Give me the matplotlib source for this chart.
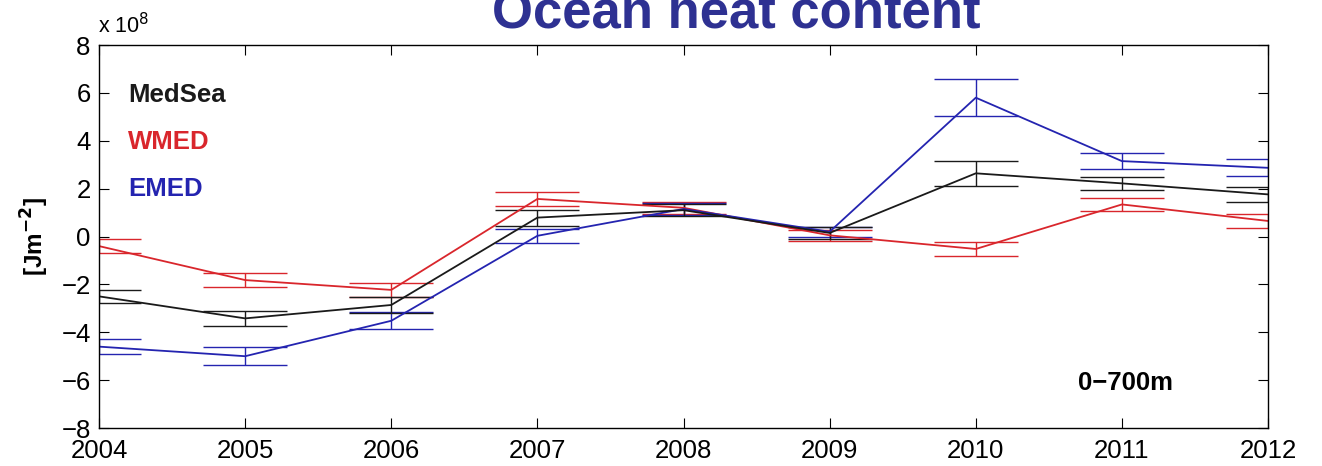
import matplotlib
matplotlib.use("Agg")
import matplotlib.pyplot as plt
import numpy as np

plt.rcParams['font.family'] = ['Liberation Sans', 'DejaVu Sans']

years = [2004, 2005, 2006, 2007, 2008, 2009, 2010, 2011, 2012]
medsea = [-2.5, -3.42, -2.86, 0.79, 1.1, 0.15, 2.64, 2.22, 1.76]
medsea_err = [0.28, 0.32, 0.32, 0.33, 0.26, 0.25, 0.52, 0.28, 0.31]
wmed = [-0.4, -1.82, -2.23, 1.57, 1.2, 0.05, -0.52, 1.34, 0.65]
wmed_err = [0.3, 0.28, 0.3, 0.3, 0.26, 0.22, 0.31, 0.28, 0.31]
emed = [-4.6, -5.0, -3.52, 0.03, 1.15, 0.2, 5.8, 3.15, 2.87]
emed_err = [0.32, 0.38, 0.35, 0.3, 0.26, 0.2, 0.78, 0.32, 0.35]
yticks = [-8, -6, -4, -2, 0, 2, 4, 6, 8]

c_black = '#1a1a1a'
c_red = '#d9262c'
c_blue = '#2424b0'

fig = plt.figure(figsize=(13.22, 4.66), dpi=100)
ax = fig.add_axes([0.0749, 0.0815, 0.8843, 0.8219])

for vals, errs, col in [(wmed, wmed_err, c_red), (emed, emed_err, c_blue), (medsea, medsea_err, c_black)]:
    ax.errorbar(years, vals, yerr=errs, color=col, lw=1.3, elinewidth=1.0,
                capsize=30.5, capthick=1.0)

ax.set_xlim(2004, 2012)
ax.set_ylim(-8, 8)
ax.set_xticks(years)
ax.set_xticklabels([str(y) for y in years])
ax.set_yticks(yticks)
ax.tick_params(direction='in', length=7, width=0.8, top=True, right=True,
               labelsize=18.5)
ax.tick_params(axis='x', pad=8)
ax.tick_params(axis='y', pad=6)
for s in ax.spines.values():
    s.set_linewidth(1.0)

ax.text(0.0248, 0.869, 'MedSea', transform=ax.transAxes, color=c_black,
        fontsize=18.5, fontweight='bold', va='center', ha='left')
ax.text(0.0248, 0.747, 'WMED', transform=ax.transAxes, color=c_red,
        fontsize=18.5, fontweight='bold', va='center', ha='left')
ax.text(0.0248, 0.624, 'EMED', transform=ax.transAxes, color=c_blue,
        fontsize=18.5, fontweight='bold', va='center', ha='left')
ax.text(0.837, 0.118, '0\u2212700m', transform=ax.transAxes, color='black',
        fontsize=18.5, fontweight='bold', va='center', ha='left')

fig.text(35 / 1322, 1 - 237 / 466, '[Jm$^{\\mathbf{-2}}$]', rotation=90,
         fontsize=17.5, fontweight='bold', ha='center', va='center')
fig.text(98 / 1322, 1 - 33 / 466, 'x 10$^{8}$', fontsize=15.5, ha='left',
         va='baseline')
fig.text(736 / 1322, 1 - 28 / 466, 'Ocean heat content', fontsize=38,
         fontweight='bold', color='#2e3192', ha='center', va='baseline')

fig.savefig('out.png', dpi=100)
